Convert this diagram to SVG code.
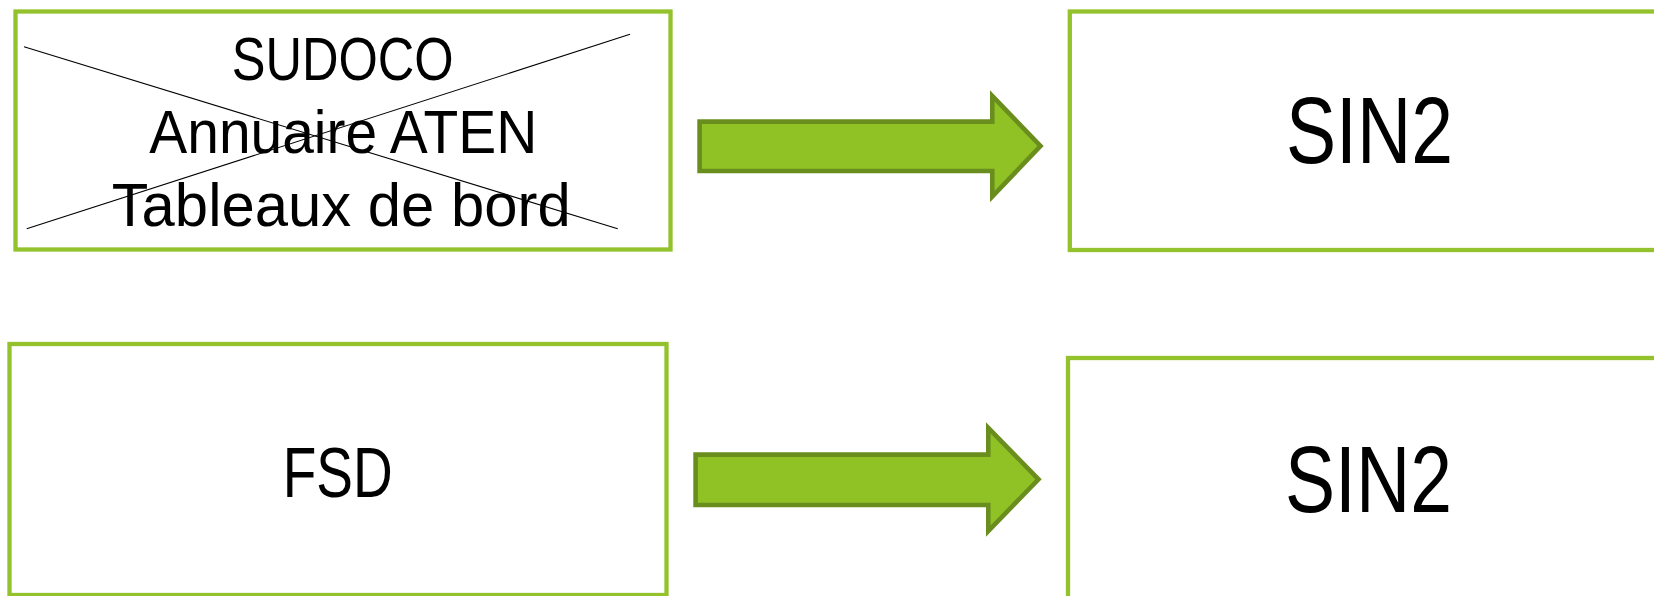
<svg xmlns="http://www.w3.org/2000/svg" width="1654" height="596" viewBox="0 0 1654 596">
<style>
.box{fill:#ffffff;stroke:#93C22C;stroke-width:4.3}
.lbl{font-family:"Liberation Sans",Arial,sans-serif;fill:#000000}
.cross{stroke:#000000;stroke-width:1.1;fill:none}
.arrow{fill:#90C226;stroke:#6A8E1E;stroke-width:4.6;stroke-linejoin:miter}
</style>
<rect width="1654" height="596" fill="#ffffff"/>
<g id="node-sources">
<rect class="box" x="15.5" y="11.5" width="655" height="238"/>
<text class="lbl" x="231.7" y="80" font-size="61" textLength="222" lengthAdjust="spacingAndGlyphs">SUDOCO</text>
<text class="lbl" x="149.3" y="152.7" font-size="61" textLength="388" lengthAdjust="spacingAndGlyphs">Annuaire ATEN</text>
<text class="lbl" x="111.7" y="226" font-size="61" textLength="459" lengthAdjust="spacingAndGlyphs">Tableaux de bord</text>
<line class="cross" x1="24" y1="46.7" x2="617.7" y2="228.7"/>
<line class="cross" x1="26.7" y1="228.7" x2="630" y2="34.3"/>
</g>
<g id="node-sin2-top">
<rect class="box" x="1069.8" y="11.5" width="600" height="238.5"/>
<text class="lbl" x="1286" y="163.3" font-size="94" textLength="167" lengthAdjust="spacingAndGlyphs">SIN2</text>
</g>
<g id="node-fsd">
<rect class="box" x="9.5" y="344" width="657" height="251"/>
<text class="lbl" x="282.7" y="496.7" font-size="71" textLength="110" lengthAdjust="spacingAndGlyphs">FSD</text>
</g>
<g id="node-sin2-bottom">
<rect class="box" x="1068" y="358" width="600" height="260"/>
<text class="lbl" x="1285" y="511.7" font-size="94" textLength="167" lengthAdjust="spacingAndGlyphs">SIN2</text>
</g>
<g id="connectors">
<polygon class="arrow" points="699.6,121.6 992.3,121.6 992.3,96 1040.5,146 992.3,196.5 992.3,171 699.6,171"/>
<polygon class="arrow" points="695.6,454.6 988.3,454.6 988.3,428 1038.5,479.3 988.3,531 988.3,505 695.6,505"/>
</g>
</svg>
